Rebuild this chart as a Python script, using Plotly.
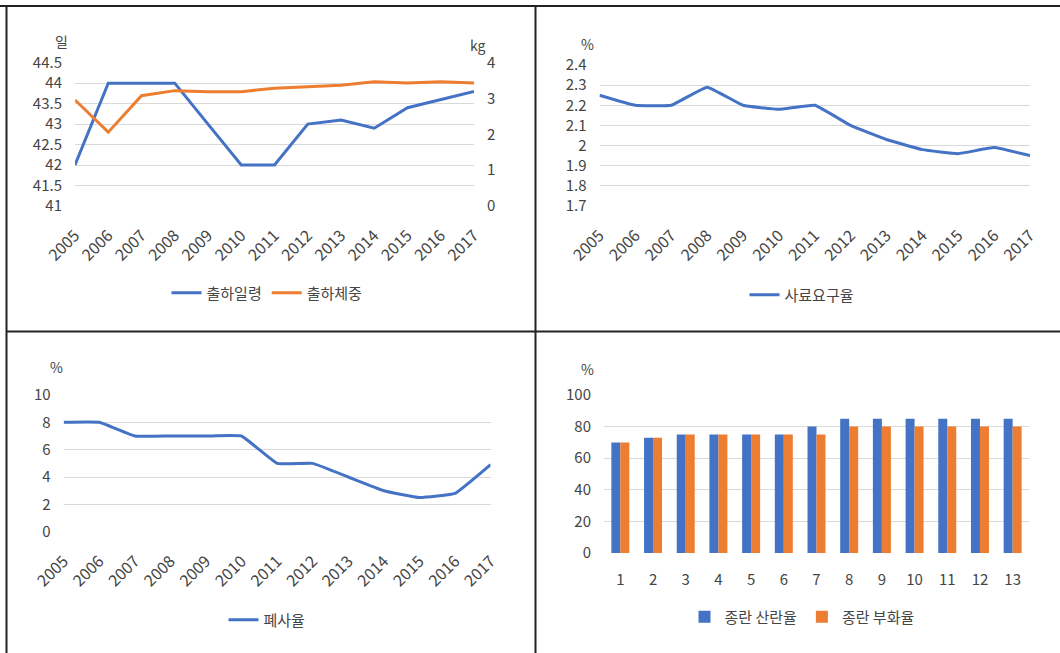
import plotly.graph_objects as go

# ---- data ----
years = [str(y) for y in range(2005, 2018)]

ship_age = [42, 44, 44, 44, 43, 42, 42, 43, 43.1, 42.9, 43.4, 43.6, 43.8]          # 일
ship_weight = [2.96, 2.06, 3.08, 3.22, 3.19, 3.19, 3.29, 3.33, 3.37, 3.47, 3.43, 3.47, 3.43]  # kg

feed_ratio = [2.25, 2.2, 2.2, 2.29, 2.2, 2.18, 2.2, 2.1, 2.03, 1.98, 1.96, 1.99, 1.95]

mortality = [8, 8, 7, 7, 7, 7, 5, 5, 4, 3, 2.5, 2.8, 4.9]

periods = [str(i) for i in range(1, 14)]
laying_rate = [70, 73, 75, 75, 75, 75, 80, 85, 85, 85, 85, 85, 85]
hatch_rate = [70, 73, 75, 75, 75, 75, 75, 80, 80, 80, 80, 80, 80]

# ---- styling ----
W, H = 1060, 653
BLUE = "#4472C4"
ORANGE = "#ED7D31"
GRID = "#d9d9d9"
TXT = "#454545"
FONT = "Noto Sans CJK KR"


def px(x):
    return x / W


def py(y):
    return 1 - y / H


fig = go.Figure()

# top-left: shipping age / weight
fig.add_trace(go.Scatter(x=years, y=ship_age, name="출하일령", mode="lines",
                         line=dict(color=BLUE, width=3), xaxis="x", yaxis="y",
                         legend="legend"))
fig.add_trace(go.Scatter(x=years, y=ship_weight, name="출하체중", mode="lines",
                         line=dict(color=ORANGE, width=3), xaxis="x", yaxis="y2",
                         legend="legend"))

# top-right: feed conversion
fig.add_trace(go.Scatter(x=years, y=feed_ratio, name="사료요구율", mode="lines",
                         line=dict(color=BLUE, width=3, shape="spline", smoothing=0.3),
                         xaxis="x2", yaxis="y3", legend="legend2"))

# bottom-left: mortality
fig.add_trace(go.Scatter(x=years, y=mortality, name="폐사율", mode="lines",
                         line=dict(color=BLUE, width=3, shape="spline", smoothing=0.3),
                         xaxis="x3", yaxis="y4", legend="legend3"))

# bottom-right: laying / hatching rate
fig.add_trace(go.Bar(x=periods, y=laying_rate, name="종란 산란율", marker_color=BLUE,
                     marker_line_width=0, xaxis="x4", yaxis="y5", legend="legend4"))
fig.add_trace(go.Bar(x=periods, y=hatch_rate, name="종란 부화율", marker_color=ORANGE,
                     marker_line_width=0, xaxis="x4", yaxis="y5", legend="legend4"))

tickfont = dict(family=FONT, size=15, color=TXT)
xtickfont = dict(family=FONT, size=16, color=TXT)


def xaxis(x0, x1, y_anchor, angle):
    return dict(domain=[px(x0), px(x1)], anchor=y_anchor, type="category",
                showgrid=False, showline=False, zeroline=False, ticks="",
                tickangle=angle, tickfont=xtickfont, ticklabelstandoff=16,
                automargin=False, fixedrange=True)


def yaxis(y_top, y_bot, x_anchor, rng, dtick):
    return dict(domain=[py(y_bot), py(y_top)], anchor=x_anchor, range=rng,
                dtick=dtick, showgrid=True, gridcolor=GRID, gridwidth=1,
                showline=False, zeroline=False, ticks="", tickfont=tickfont,
                ticklabelstandoff=12, automargin=False, fixedrange=True)


def legend(xc, yc):
    return dict(x=px(xc), y=py(yc), xanchor="center", yanchor="middle",
                orientation="h", font=dict(family=FONT, size=15, color=TXT),
                bgcolor="rgba(0,0,0,0)", tracegroupgap=0)


layout = dict(
    width=W, height=H,
    margin=dict(l=0, r=0, t=0, b=0, autoexpand=False),
    paper_bgcolor="white", plot_bgcolor="white",
    showlegend=True,
    barmode="group", bargap=0.45, bargroupgap=0,
    xaxis=xaxis(75, 474, "y", -45),
    yaxis=yaxis(62.7, 206, "x", [41, 44.5], 0.5),
    yaxis2=dict(domain=[py(206), py(62.7)], anchor="x", overlaying="y", side="right",
                range=[0, 4], dtick=1, showgrid=False, zeroline=False, showline=False,
                ticks="", tickfont=tickfont, ticklabelstandoff=12, automargin=False,
                fixedrange=True),
    xaxis2=xaxis(599.5, 1030, "y3", -45),
    yaxis3=yaxis(65, 206, "x2", [1.7, 2.4], 0.1),
    xaxis3=xaxis(63.6, 490.6, "y4", -45),
    yaxis4=yaxis(395, 531.7, "x3", [0, 10], 2),
    xaxis4=xaxis(604, 1029, "y5", 0),
    yaxis5=yaxis(395, 553, "x4", [0, 100], 20),
    legend=legend(267, 293),
    legend2=legend(802, 295),
    legend3=legend(267, 620),
    legend4=legend(802, 617),
)
layout["xaxis4"]["tickfont"] = dict(family=FONT, size=15, color=TXT)
layout["xaxis4"]["ticklabelstandoff"] = 16
fig.update_layout(**layout)

# unit labels above the value axes
units = [("일", 61, 41), ("kg", 478, 45), ("%", 587, 44), ("%", 56, 367), ("%", 587, 369)]
for text, x, y in units:
    fig.add_annotation(text=text, x=px(x), y=py(y), xref="paper", yref="paper",
                       showarrow=False, xanchor="center", yanchor="middle",
                       font=dict(family=FONT, size=14, color=TXT))

# table frame around the four panels
FRAME = dict(color="#222222", width=2)
for x0, y0, x1, y1 in [(0, 6, W, 6), (6.5, 6, 6.5, H), (535.5, 6, 535.5, H), (6, 331.5, W, 331.5)]:
    fig.add_shape(type="line", xref="paper", yref="paper",
                  x0=px(x0), y0=py(y0), x1=px(x1), y1=py(y1), line=FRAME)

fig.write_html("out.html", config={"displayModeBar": False})
